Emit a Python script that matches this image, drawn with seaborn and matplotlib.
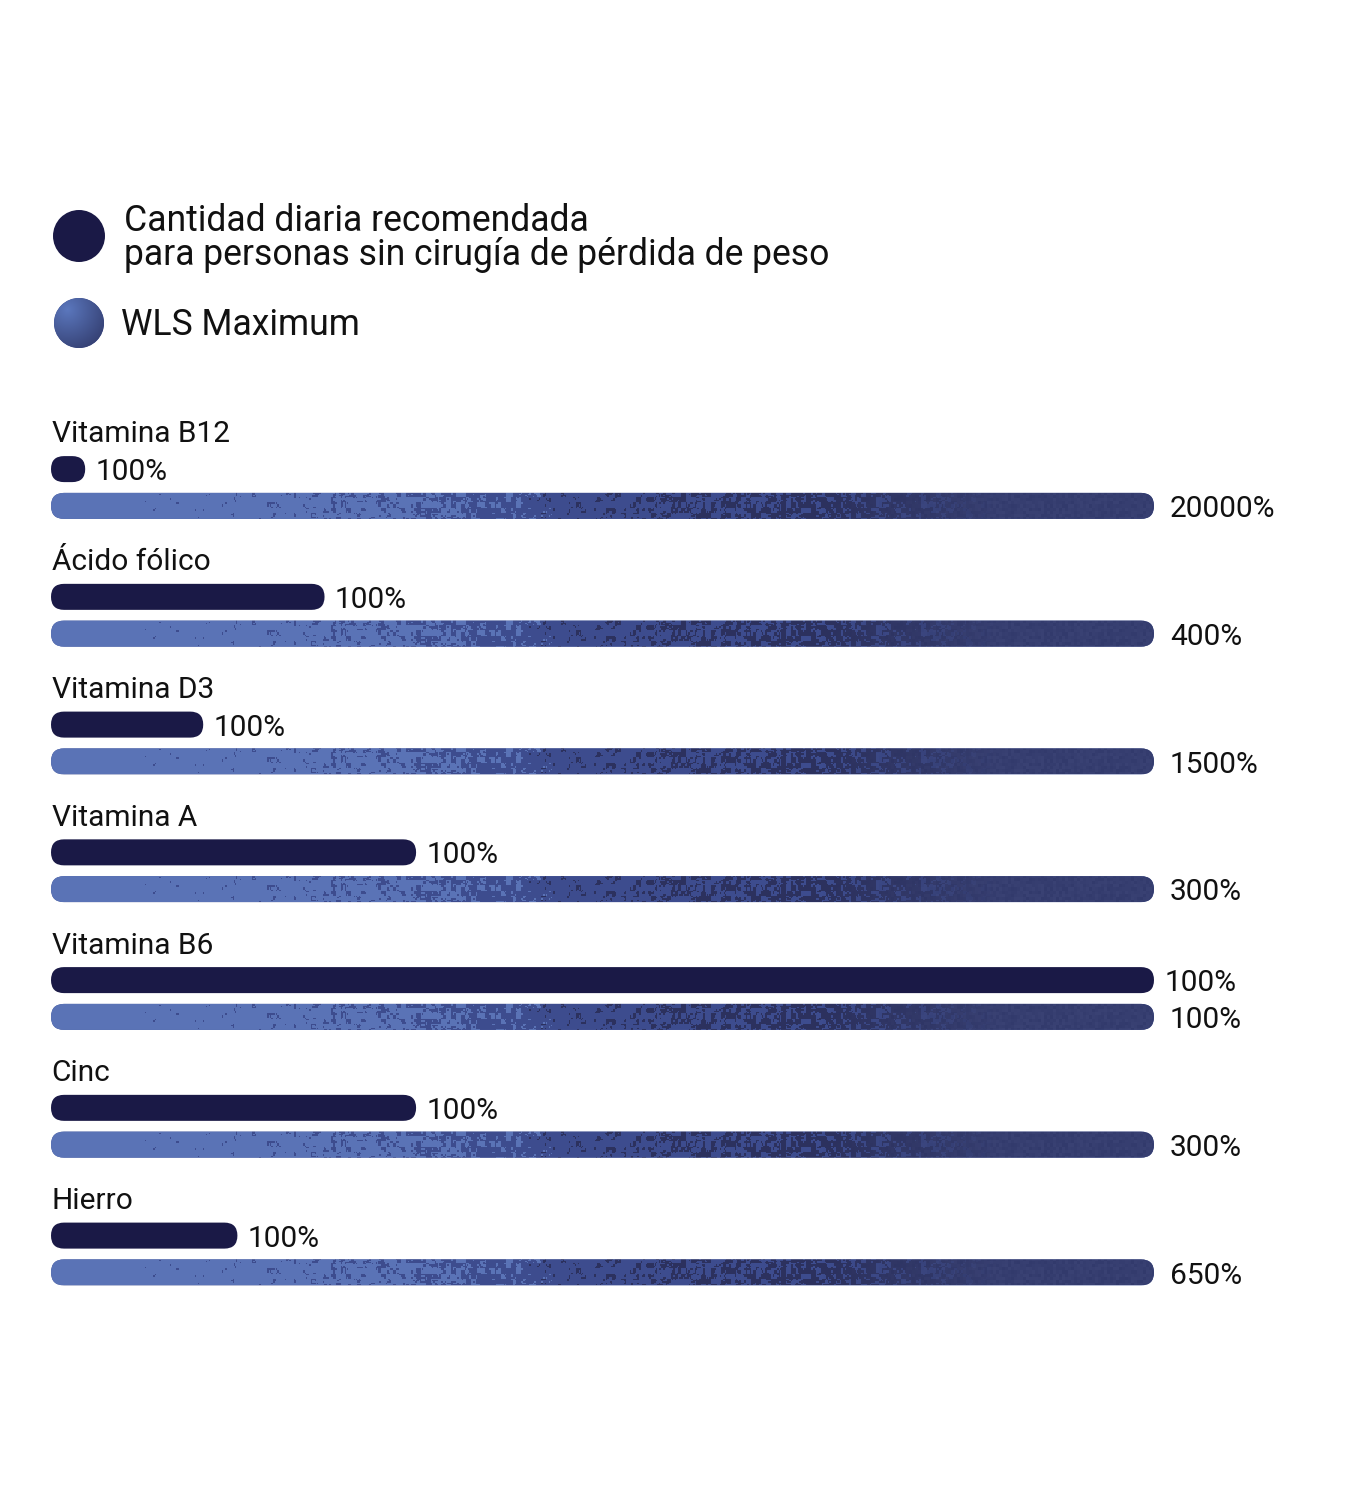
import numpy as np
import pandas as pd
import matplotlib
matplotlib.use("Agg")
import matplotlib.pyplot as plt
import seaborn as sns
from matplotlib.patches import FancyBboxPatch, Circle
from matplotlib.colors import to_rgb

# ---------------- data ----------------
nutrients = ["Vitamina B12", "Ácido fólico", "Vitamina D3", "Vitamina A",
             "Vitamina B6", "Cinc", "Hierro"]
rda_labels = ["100%", "100%", "100%", "100%", "100%", "100%", "100%"]
wls_labels = ["20000%", "400%", "1500%", "300%", "100%", "300%", "650%"]
# bar lengths as drawn, in % of the WLS Maximum bar
rda_bar = [3.1, 24.8, 13.8, 33.1, 100, 33.1, 16.9]
wls_bar = [100, 100, 100, 100, 100, 100, 100]
series_names = ["Cantidad diaria recomendada\npara personas sin cirugía de pérdida de peso",
                "WLS Maximum"]

df = pd.DataFrame({
    "nutrient": nutrients * 2,
    "series": ["rda"] * len(nutrients) + ["wls"] * len(nutrients),
    "length": rda_bar + wls_bar,
})

# ---------------- style ----------------
sns.set_theme(style="white")
FONT = ["Roboto", "DejaVu Sans"]
plt.rcParams["font.family"] = FONT
RDA_COLOR = "#1a1946"
TXT = "#111111"
L = np.array(to_rgb("#5a73b6"))
M = np.array(to_rgb("#3d4c8e"))
D = np.array(to_rgb("#2c315e"))
E = np.array(to_rgb("#363e70"))
FS = 21.5
LFS = 25.6

W, H, DPI = 1366, 1500, 100
fig = plt.figure(figsize=(W / DPI, H / DPI), dpi=DPI)
fig.patch.set_facecolor("white")

PX_LEFT, PX_RIGHT, PX_TOP, PX_BOT = 51, 1154, 400, 1300
G0, GS = 487.5, 127.75
ax = fig.add_axes([PX_LEFT / W, 1 - PX_BOT / H,
                   (PX_RIGHT - PX_LEFT) / W, (PX_BOT - PX_TOP) / H])

sns.barplot(data=df, x="length", y="nutrient", hue="series",
            hue_order=["rda", "wls"], order=nutrients, orient="h",
            width=0.576, gap=0.293, dodge=True, errorbar=None,
            legend=False, palette=[RDA_COLOR, "#48599b"], ax=ax)

YLIM = ((PX_BOT - G0) / GS, (PX_TOP - G0) / GS)
ax.set_xlim(0, 100)
ax.set_ylim(*YLIM)
ax.axis("off")

pxx = (PX_RIGHT - PX_LEFT) / 100.0
aspect = pxx / GS

# ---------------- texture ----------------
rng = np.random.default_rng(11)
TH, TW = 26, PX_RIGHT - PX_LEFT


def blocky(s):
    small = rng.random((TH // s + 2, TW // s + 2))
    return np.kron(small, np.ones((s, s)))[:TH, :TW]


def uniformize(a):
    r = a.ravel().argsort().argsort().reshape(a.shape)
    return r / r.size


n1 = uniformize(0.5 * blocky(5) + 0.3 * blocky(3) + 0.2 * blocky(2))
n2 = uniformize(0.5 * blocky(5) + 0.3 * blocky(3) + 0.2 * blocky(2))
n3 = blocky(3)
t = np.linspace(0, 1, TW)[None, :]
s1 = np.clip(t / 0.46, 0, 1) ** 3
s2 = 0.7 * np.clip((t - 0.42) / 0.25, 0, 1) ** 1.3
img = np.ones((TH, TW, 3)) * L
img[n1 < s1] = M
img[n2 < s2] = D
w3 = np.clip((t - 0.70) / 0.16, 0, 1)[..., None]
e_tex = E[None, None, :] + (n3[..., None] - 0.5) * 0.03
img = img * (1 - w3) + e_tex * w3
img = np.clip(img, 0, 1)

# ---------------- bars ----------------
bars = list(ax.patches)
for p in bars:
    x, y, w, h = p.get_x(), p.get_y(), p.get_width(), p.get_height()
    yc = y + h / 2
    i = int(round(yc))
    is_rda = yc < i
    p.remove()
    r = (h * GS / 2) / pxx
    fb = FancyBboxPatch((x, y), w, h,
                        boxstyle=f"round,pad=0,rounding_size={r}",
                        mutation_aspect=aspect, linewidth=0,
                        facecolor=RDA_COLOR if is_rda else "#48599b",
                        zorder=2)
    ax.add_patch(fb)
    if is_rda:
        ax.annotate(rda_labels[i], xy=(x + w, yc), xytext=(7.5, -8.0),
                    textcoords="offset points", ha="left", va="baseline",
                    fontsize=FS, color=TXT)
    else:
        im = ax.imshow(img, extent=(x, x + w, y + h, y), aspect="auto",
                       interpolation="nearest", zorder=3)
        im.set_clip_path(fb)
        ax.annotate(wls_labels[i], xy=(x + w, yc), xytext=(11.5, -8.0),
                    textcoords="offset points", ha="left", va="baseline",
                    fontsize=FS, color=TXT)

for i, name in enumerate(nutrients):
    ax.annotate(name, xy=(0, i), xytext=(0.5, 32.4), textcoords="offset points",
                ha="left", va="baseline", fontsize=FS, color=TXT)

ax.set_xlim(0, 100)
ax.set_ylim(*YLIM)

# ---------------- legend ----------------
lax = fig.add_axes([40 / W, 1 - 360 / H, 80 / W, 160 / H])
lax.set_xlim(40, 120)
lax.set_ylim(360, 200)
lax.axis("off")
lax.add_patch(Circle((79, 236), 26, facecolor=RDA_COLOR, edgecolor="none"))
c2 = Circle((79, 323), 25, facecolor="#3d4c8e", edgecolor="none")
lax.add_patch(c2)
yy, xx = np.mgrid[0:60, 0:60]
dist = np.sqrt((xx - 18) ** 2 + (yy - 16) ** 2) / 55.0
dist = np.clip(dist, 0, 1)[..., None]
cimg = np.array(to_rgb("#5b77bd")) * (1 - dist) + np.array(to_rgb("#2b3260")) * dist
cim = lax.imshow(cimg, extent=(49, 109, 353, 293), aspect="auto", zorder=3)
cim.set_clip_path(c2)
lax.set_xlim(40, 120)
lax.set_ylim(360, 200)

fig.text(124 / W, 1 - 238 / H, series_names[0], fontsize=LFS, color=TXT,
         va="center", ha="left", linespacing=0.93)
fig.text(121 / W, 1 - 335 / H, series_names[1], fontsize=LFS, color=TXT,
         va="baseline", ha="left")

fig.savefig("out.png", dpi=DPI, facecolor="white")
